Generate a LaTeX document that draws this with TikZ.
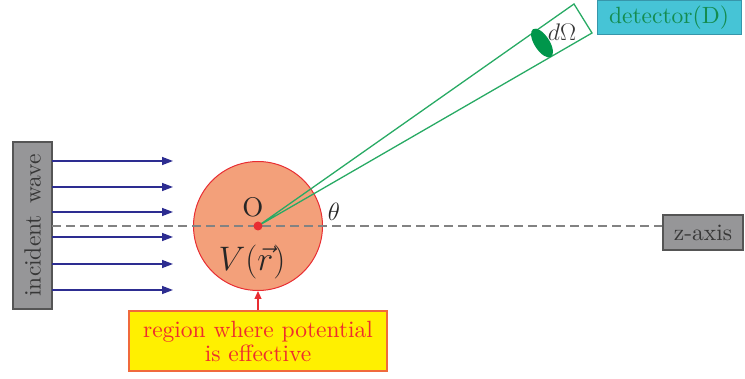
\RequirePackage{fix-cm}
\documentclass[tikz,border=0pt]{standalone}
\usepackage{fontspec}
\setmainfont{lmroman10-regular.otf}[BoldFont=lmroman10-bold.otf, ItalicFont=lmroman10-italic.otf]
\usetikzlibrary{arrows.meta,shapes.geometric}
\definecolor{boxgray}{RGB}{150,150,152}
\definecolor{boxedge}{RGB}{85,85,85}
\definecolor{txtgray}{RGB}{55,55,55}
\definecolor{wavecol}{RGB}{45,45,145}
\definecolor{dashcol}{RGB}{130,130,130}
\definecolor{potfill}{RGB}{243,160,122}
\definecolor{potedge}{RGB}{232,45,50}
\definecolor{conecol}{RGB}{40,170,100}
\definecolor{dgreen}{RGB}{0,150,75}
\definecolor{detfill}{RGB}{70,196,214}
\definecolor{detedge}{RGB}{55,150,170}
\definecolor{dettext}{RGB}{20,140,80}
\definecolor{yelfill}{RGB}{255,240,0}
\definecolor{yeledge}{RGB}{240,105,60}
\definecolor{redtext}{RGB}{238,45,45}
\tikzset{
  bigtext/.style={font=\fontsize{23.5}{24}\selectfont},
  graybox/.style={draw=boxedge, fill=boxgray, line width=1.2pt, inner sep=0pt, text=txtgray, bigtext},
  wavearrow/.style={draw=wavecol, line width=1.4pt, -{Triangle[length=11pt,width=8pt]}},
  axisline/.style={draw=dashcol, line width=1.8pt, dash pattern=on 9pt off 5pt},
  cone/.style={draw=conecol, line width=1.3pt},
}
\begin{document}
\begin{tikzpicture}[x=1pt,y=-1pt]
\useasboundingbox (0,0) rectangle (745,379);
% incident wave box
\node[graybox, rotate=90, minimum width=167, minimum height=39] (inc) at (32.5,225.5) {incident\hspace{11pt}wave};
% arrows
\foreach \yy in {161,187,212,237,264,290}{
  \draw[wavearrow] (52,\yy) -- (173,\yy);
}
% potential region
\node[circle, draw=potedge, fill=potfill, line width=1pt, minimum size=129, inner sep=0pt] (pot) at (258,226) {};
% z-axis box
\node[graybox, minimum width=80, minimum height=35] (zax) at (703,232.5) {z-axis};
% dashed axis
\draw[axisline] (52,226) -- (zax.west |- 0,226);
% cone to detector
\coordinate (c1) at (574,4);
\coordinate (c2) at (592,33);
\draw[cone] (pot.center) -- (c1) -- (c2) -- cycle;
\node[ellipse, fill=dgreen, minimum width=15, minimum height=33, inner sep=0pt, rotate=33] (dom) at (542,43) {};
\node[text=txtgray, font=\fontsize{24}{26}\selectfont] (domlab) at (562,32) {$d\Omega$};
% detector
\node[draw=detedge, fill=detfill, line width=1pt, minimum width=144, minimum height=34, inner sep=0pt,
  text=dettext, bigtext] (det) at (669,18) {detector(D)};
% labels in circle
\fill[potedge] (pot.center) circle (4.5);
\node[font=\fontsize{27}{29}\selectfont, text=black!85] (olab) at (253,207) {O};
\node[font=\fontsize{25}{27}\selectfont, text=black!85] (thlab) at (334,212) {$\theta$};
\node[font=\fontsize{34}{36}\selectfont, text=black!85] (vlab) at (252,262) {$V(\vec r)$};
% yellow box
\node[draw=yeledge, fill=yelfill, line width=1.2pt, minimum width=258, minimum height=60, inner sep=0pt,
  text=redtext, align=center, bigtext] (reg) at (258,341) {region where potential\\is effective};
\draw[draw=potedge, line width=1.2pt, -{Triangle[length=8pt,width=7pt]}] (reg.north) -- (pot.south);
\end{tikzpicture}
\end{document}
